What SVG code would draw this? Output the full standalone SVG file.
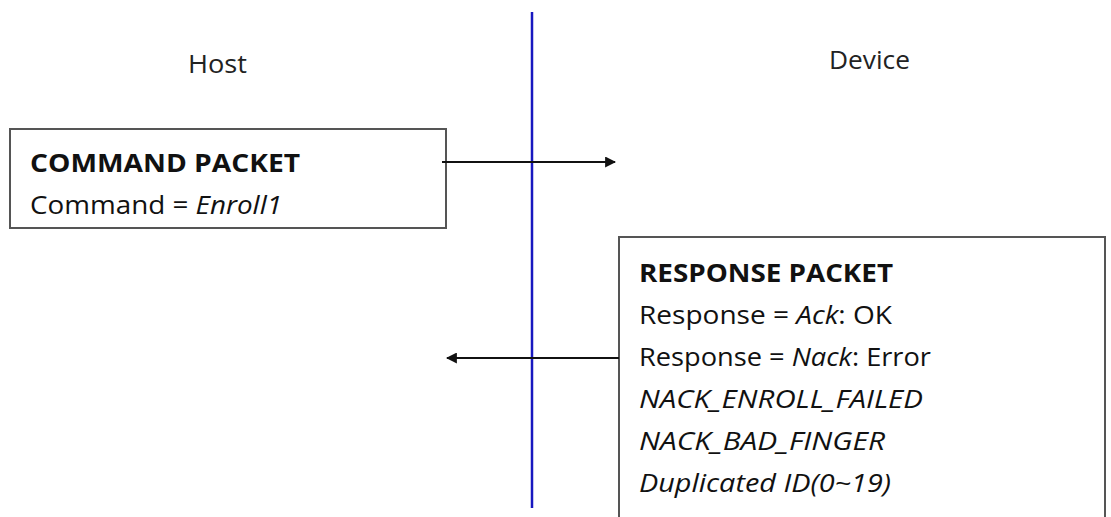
<svg xmlns="http://www.w3.org/2000/svg" width="1111" height="517" viewBox="0 0 1111 517">
<defs>
<style>
text{font-family:"Open Sans","Noto Sans","DejaVu Sans",sans-serif;font-size:25px;fill:#111}
.lbl{fill:#222}
.b{font-weight:bold}
.i{font-style:italic}
.box{fill:#fff;stroke:#555;stroke-width:2}
.conn{stroke:#111;stroke-width:1.8;fill:none}
</style>
<marker id="ah" viewBox="0 0 10 10" refX="9" refY="5" markerWidth="11" markerHeight="11" markerUnits="userSpaceOnUse" orient="auto"><path d="M0,0 L10,5 L0,10 Z" fill="#111"/></marker>
</defs>
<rect width="1111" height="517" fill="#fff"/>
<g id="host-label"><text class="lbl" x="188" y="73" textLength="59" lengthAdjust="spacingAndGlyphs">Host</text></g>
<g id="device-label"><text class="lbl" x="829" y="69" textLength="81" lengthAdjust="spacingAndGlyphs">Device</text></g>
<g id="divider"><line x1="532" y1="12" x2="532" y2="508" stroke="#1818c0" stroke-width="2.5"/></g>
<g id="command-packet">
<rect class="box" x="10" y="129" width="436" height="99"/>
<text class="b" x="30" y="172" textLength="270" lengthAdjust="spacingAndGlyphs">COMMAND PACKET</text>
<text x="30" y="214" textLength="252" lengthAdjust="spacingAndGlyphs">Command = <tspan class="i">Enroll1</tspan></text>
</g>
<g id="response-packet">
<rect class="box" x="619" y="237" width="486" height="290"/>
<text class="b" x="639" y="282" textLength="254" lengthAdjust="spacingAndGlyphs">RESPONSE PACKET</text>
<text x="639" y="324" textLength="253" lengthAdjust="spacingAndGlyphs">Response = <tspan class="i">Ack</tspan>: OK</text>
<text x="639" y="366" textLength="292" lengthAdjust="spacingAndGlyphs">Response = <tspan class="i">Nack</tspan>: Error</text>
<text class="i" x="639" y="408" textLength="284" lengthAdjust="spacingAndGlyphs">NACK_ENROLL_FAILED</text>
<text class="i" x="639" y="450" textLength="246" lengthAdjust="spacingAndGlyphs">NACK_BAD_FINGER</text>
<text class="i" x="639" y="492" textLength="252" lengthAdjust="spacingAndGlyphs">Duplicated ID(0~19)</text>
</g>
<g id="connectors">
<line class="conn" x1="442" y1="162" x2="615" y2="162" marker-end="url(#ah)"/>
<line class="conn" x1="619" y1="358" x2="447" y2="358" marker-end="url(#ah)"/>
</g>
</svg>
